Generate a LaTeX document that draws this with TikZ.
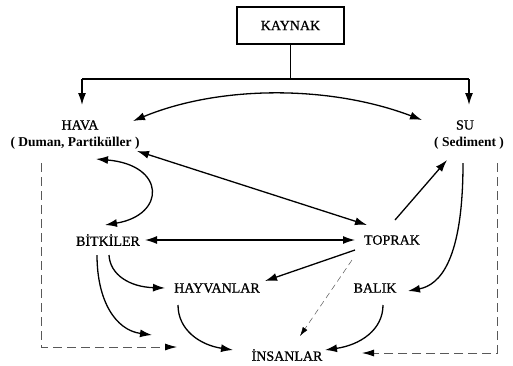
\documentclass[tikz,border=0pt]{standalone}
\usepackage{fontspec}
\setmainfont{Liberation Serif}
\newfontfamily\lblfont[FakeBold=0.8]{Liberation Serif}
\usetikzlibrary{arrows.meta}
\begin{document}
\begin{tikzpicture}[x=1pt,y=-1pt,
  lbl/.style={inner sep=1pt, font=\lblfont\fontsize{14}{16}\selectfont},
  sublbl/.style={inner sep=1pt, font=\fontsize{13.5}{16}\selectfont\bfseries},
  arr/.style={line width=1.3pt, -{Latex[length=12pt,width=8pt]}},
  darr/.style={line width=1.3pt, {Latex[length=12pt,width=8pt]}-{Latex[length=12pt,width=8pt]}},
  thindash/.style={line width=0.5pt, gray!70!black, dash pattern=on 6pt off 4pt, -{Latex[length=9pt,width=5.5pt,color=black]}},
  framedash/.style={line width=0.8pt, gray!70!black, dash pattern=on 9pt off 5pt, -{Latex[length=12pt,width=7pt,color=black]}},
  tree/.style={line width=1.5pt}]
\useasboundingbox (0,0) rectangle (513,365);

% nodes
\node[draw, line width=1.5pt, minimum width=107pt, minimum height=37pt, lbl] (kaynak) at (290.5,25.5) {KAYNAK};
\node[lbl] (hava) at (80,125) {HAVA};
\node[sublbl] (havap) at (75,143) {( Duman, Partiküller )};
\node[lbl] (su) at (465,125) {SU};
\node[sublbl] (sed) at (469,143) {( Sediment )};
\node[lbl] (bitki) at (108,240) {BİTKİLER};
\node[lbl] (toprak) at (392,240) {TOPRAK};
\node[lbl] (hayvan) at (217,288) {HAYVANLAR};
\node[lbl] (balik) at (375,288) {BALIK};
\node[lbl] (insan) at (287,355) {İNSANLAR};

% tree from KAYNAK
\coordinate (bl) at (82,79);
\coordinate (br) at (469,79);
\draw[tree] (kaynak.south) -- (kaynak.south |- bl);
\draw[tree] (bl) -- (br);
\draw[tree, arr, line width=1.5pt] (bl) -- ([shift={(2,-20)}]hava.center);
\draw[tree, arr, line width=1.5pt] (br) -- ([shift={(4,-20)}]su.center);

% HAVA <-> SU
\draw[darr] ([shift={(53,-4)}]hava.center) .. controls (220,85) and (330,85) .. ([shift={(-43,-5)}]su.center);

% HAVA <-> TOPRAK
\draw[darr] ([shift={(62,8)}]havap.center) -- ([shift={(-25,-15)}]toprak.center);

% HAVA <-> BITKILER
\draw[darr] ([shift={(21,16)}]havap.center) .. controls (166,165) and (166,215) .. ([shift={(-3,-15)}]bitki.center);

% BITKILER <-> TOPRAK
\draw[darr] ([shift={(37,0)}]bitki.center) -- ([shift={(-37,0)}]toprak.center);

% TOPRAK -> SU
\draw[arr] ([shift={(3,-20)}]toprak.center) -- ([shift={(-22,17)}]sed.center);

% SU -> BALIK
\draw[arr] ([shift={(-6,20)}]sed.center) .. controls (463,260) and (440,285) .. ([shift={(33,3)}]balik.center);

% TOPRAK -> HAYVANLAR
\draw[arr] ([shift={(-37,10)}]toprak.center) -- ([shift={(48,-7)}]hayvan.center);

% TOPRAK -> INSANLAR (dashed)
\draw[thindash] ([shift={(-40,20)}]toprak.center) -- ([shift={(13,-19)}]insan.center);

% BITKILER -> HAYVANLAR
\draw[arr] ([shift={(1,15)}]bitki.center) .. controls (110,275) and (130,287) .. ([shift={(-52,0)}]hayvan.center);

% BITKILER -> INSANLAR
\draw[arr] ([shift={(-11,15)}]bitki.center) .. controls (97,300) and (115,330) .. ([shift={(-135,-20)}]insan.center);

% HAYVANLAR -> INSANLAR
\draw[arr] ([shift={(-39,17)}]hayvan.center) .. controls (178,330) and (200,345) .. ([shift={(-54,-5)}]insan.center);

% BALIK -> INSANLAR
\draw[arr] ([shift={(8,17)}]balik.center) .. controls (383,330) and (360,345) .. ([shift={(38,-5)}]insan.center);

% frame dashed lines
\draw[framedash] ([shift={(-34,20)}]havap.center) |- ([shift={(-110,-8)}]insan.center);
\draw[framedash] ([shift={(28,20)}]sed.center) |- ([shift={(75,-2)}]insan.center);
\end{tikzpicture}
\end{document}
